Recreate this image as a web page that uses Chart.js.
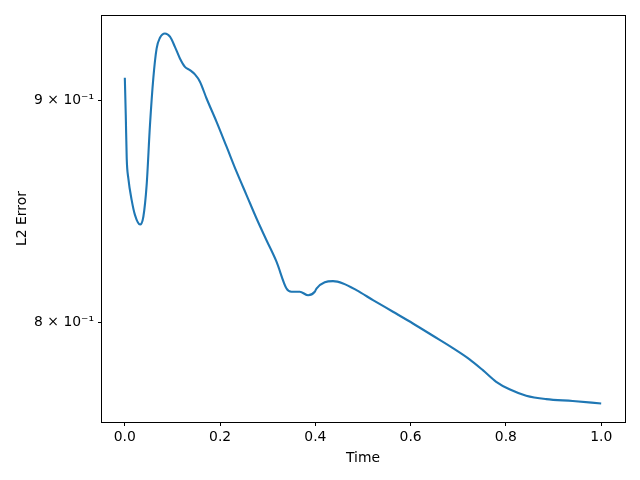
<!DOCTYPE html>
<html>
<head>
<meta charset="utf-8">
<script src="https://cdn.jsdelivr.net/npm/chart.js@4.4.0/dist/chart.umd.min.js"></script>
<style>
  html, body { margin: 0; padding: 0; background: #fff; }
</style>
</head>
<body>
<canvas id="chart" width="640" height="480"></canvas>
<script>
// values
const times = [0.000, 0.002, 0.004, 0.0074, 0.0144, 0.0214, 0.0319, 0.0389, 0.0458, 0.0528,
  0.0598, 0.0668, 0.0738, 0.0843, 0.0948, 0.1052, 0.1157, 0.1262, 0.1367, 0.1472,
  0.1577, 0.1716, 0.1926, 0.2136, 0.2345, 0.2555, 0.2765, 0.2974, 0.3184, 0.3394,
  0.3498, 0.3673, 0.3848, 0.3987, 0.4023, 0.4197, 0.4371, 0.4581, 0.4862, 0.5210,
  0.5629, 0.6048, 0.6468, 0.6887, 0.7237, 0.7516, 0.7797, 0.8075, 0.8426, 0.8845,
  0.9403, 1.000];
const l2Error = [0.9110, 0.8931, 0.8727, 0.8635, 0.8536, 0.8468, 0.8426, 0.8461, 0.8604, 0.8883,
  0.9107, 0.9253, 0.9306, 0.9327, 0.9311, 0.9261, 0.9204, 0.9163, 0.9147, 0.9126,
  0.9091, 0.9010, 0.8899, 0.8782, 0.8666, 0.8559, 0.8453, 0.8356, 0.8261, 0.8144,
  0.8130, 0.8130, 0.8115, 0.8130, 0.8144, 0.8171, 0.8176, 0.8166, 0.8137, 0.8094,
  0.8044, 0.7994, 0.7942, 0.7890, 0.7843, 0.7798, 0.7750, 0.7719, 0.7693, 0.7679,
  0.7671, 0.7661];
const xTicks = [0.0, 0.2, 0.4, 0.6, 0.8, 1.0];
const yTicks = [0.8, 0.9];
const yTickLabels = ['8 \u00d7 10\u207b\u00b9', '9 \u00d7 10\u207b\u00b9'];

const points = times.map((t, i) => ({ x: t, y: l2Error[i] }));
const font = { family: 'DejaVu Sans', size: 13.9 };

// top and right spines
const frame = {
  id: 'frame',
  afterDraw(chart) {
    const { ctx, chartArea: a } = chart;
    ctx.save();
    ctx.strokeStyle = '#000';
    ctx.lineWidth = 1;
    ctx.strokeRect(a.left + 0.5, a.top + 0.5, a.right - a.left, a.bottom - a.top);
    ctx.restore();
  }
};

new Chart(document.getElementById('chart'), {
  type: 'line',
  data: {
    datasets: [{
      data: points,
      borderColor: '#1f77b4',
      borderWidth: 2.1,
      pointRadius: 0,
      fill: false,
      cubicInterpolationMode: 'monotone'
    }]
  },
  options: {
    responsive: false,
    animation: false,
    layout: { padding: { top: 15, right: 15, left: 0, bottom: 0 } },
    plugins: { legend: { display: false }, tooltip: { enabled: false } },
    scales: {
      x: {
        type: 'linear',
        min: -0.05,
        max: 1.05,
        afterBuildTicks: axis => { axis.ticks = xTicks.map(v => ({ value: v })); },
        afterFit: axis => { axis.height = 58; },
        ticks: { color: '#000', font, padding: 3, maxRotation: 0, callback: v => v.toFixed(1) },
        grid: { drawOnChartArea: false, drawTicks: true, tickLength: 4, color: '#000' },
        border: { display: true, color: '#000' },
        title: { display: true, text: 'Time', color: '#000', font, padding: { top: 2, bottom: 13 } }
      },
      y: {
        type: 'logarithmic',
        min: 0.7586,
        max: 0.9419,
        afterBuildTicks: axis => { axis.ticks = yTicks.map(v => ({ value: v })); },
        afterFit: axis => { axis.width = 101; },
        ticks: {
          color: '#000', font, padding: 4,
          callback: v => yTickLabels[yTicks.indexOf(Math.round(v * 10) / 10)]
        },
        grid: { drawOnChartArea: false, drawTicks: true, tickLength: 3, color: '#000' },
        border: { display: true, color: '#000' },
        title: { display: true, text: 'L2 Error', color: '#000', font, padding: { bottom: 0, top: 14 } }
      }
    }
  },
  plugins: [frame]
});
</script>
</body>
</html>
